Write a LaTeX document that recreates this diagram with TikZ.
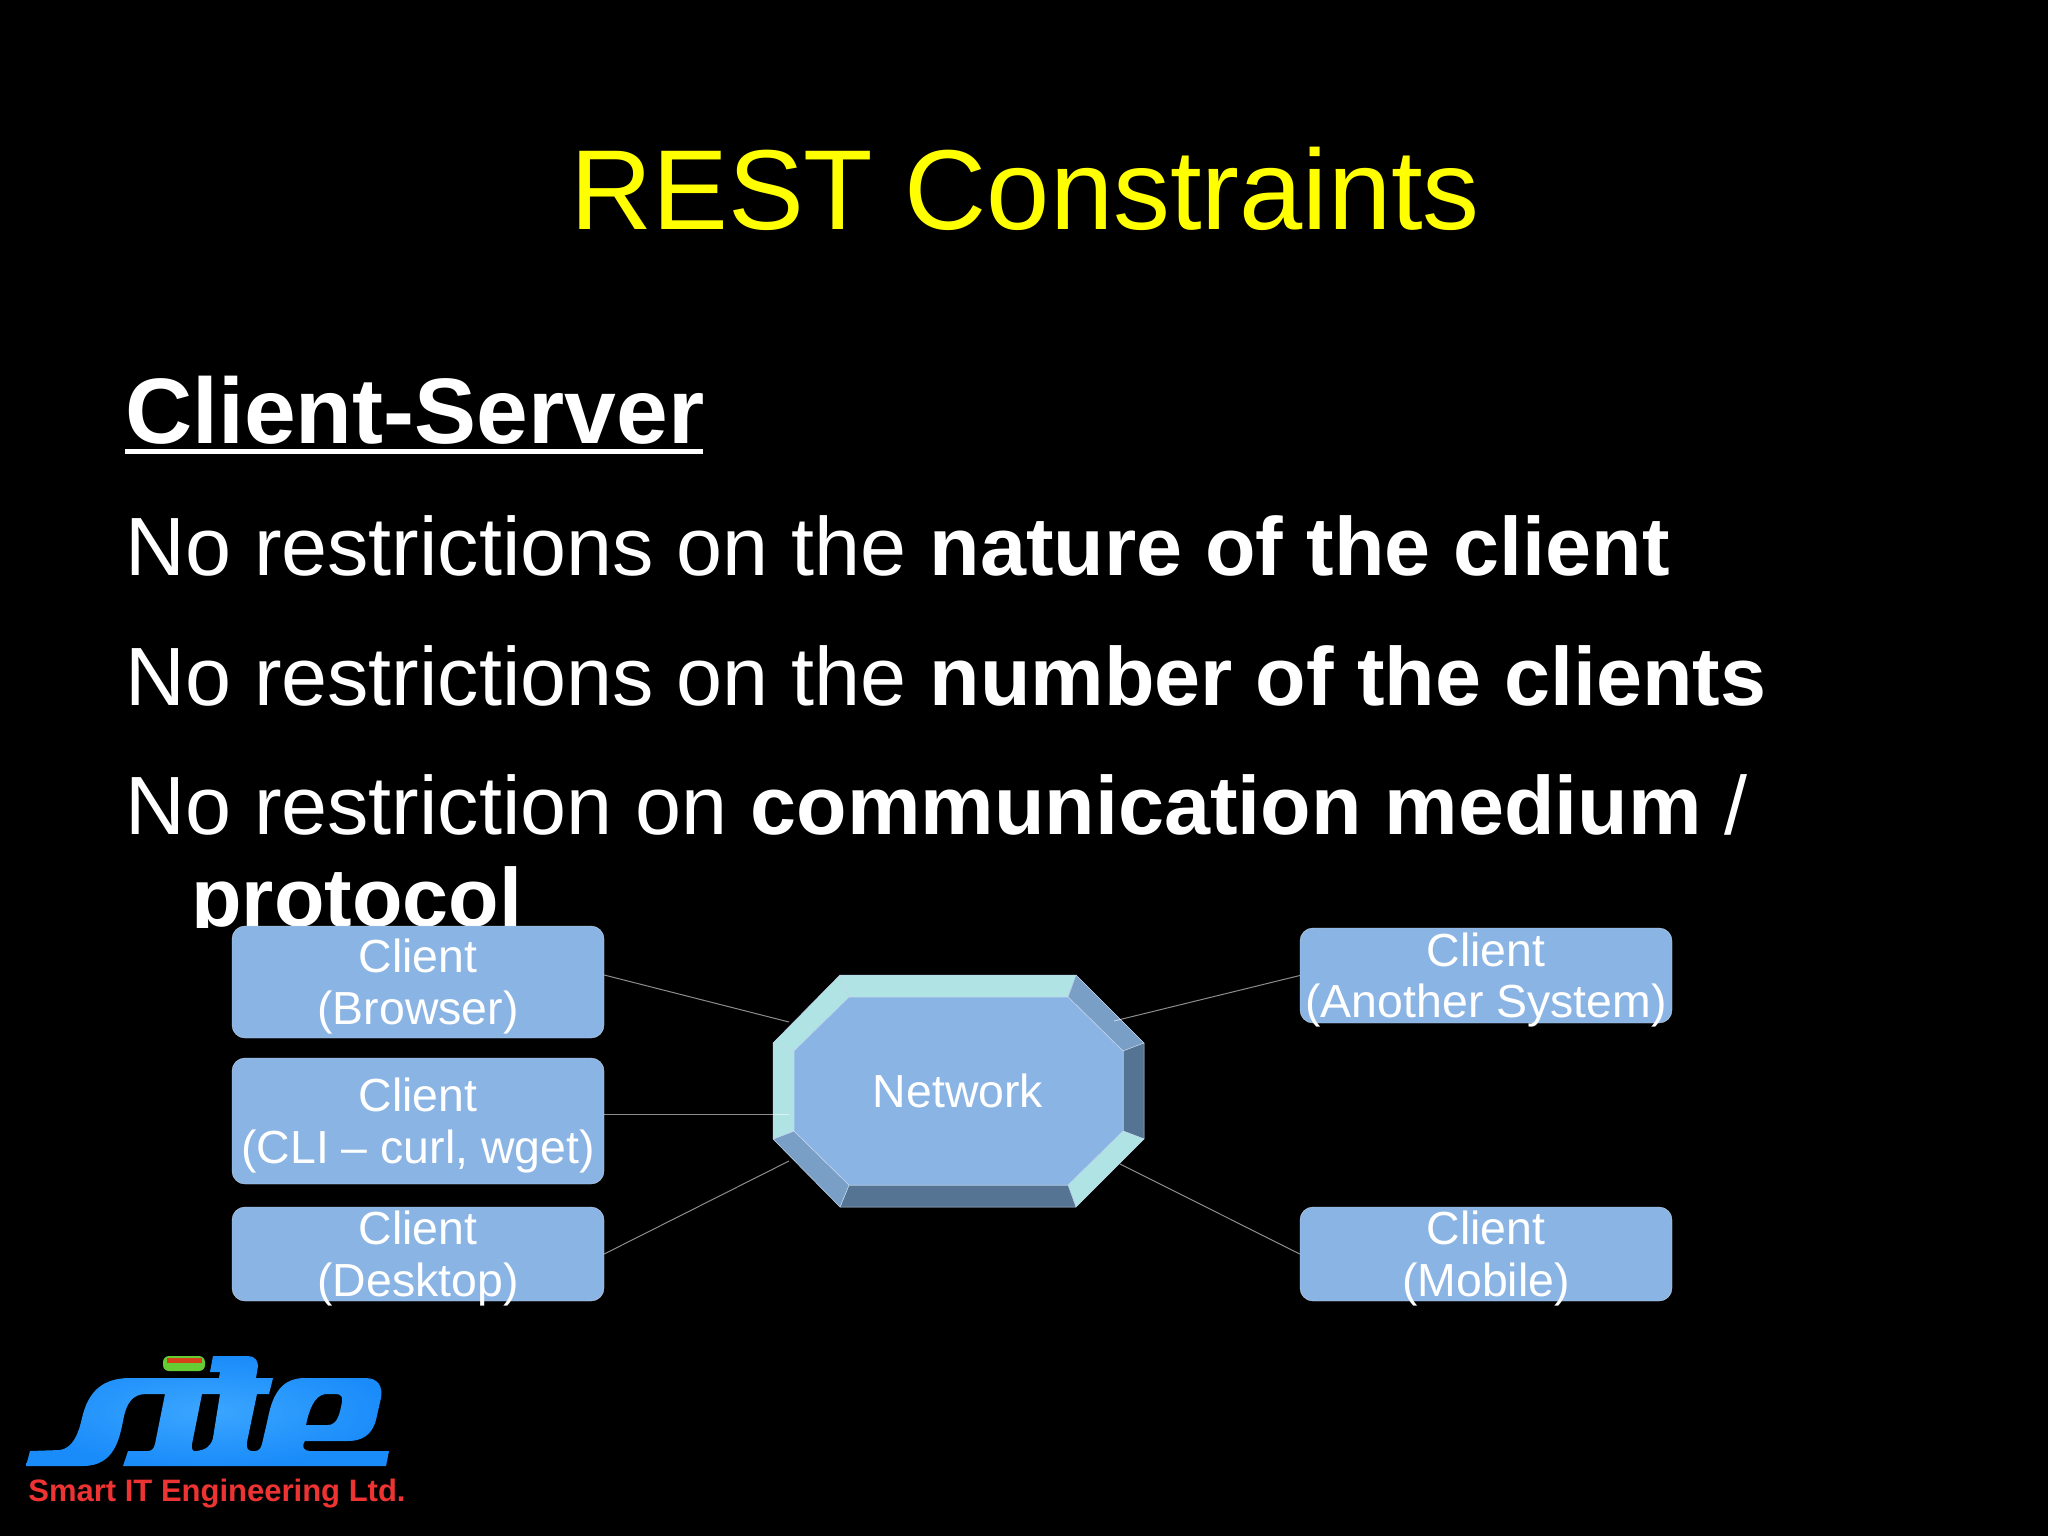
\documentclass[tikz,border=0pt]{standalone}
\usepackage{fontspec}
\setmainfont{Liberation Sans}
\definecolor{face}{HTML}{8AB4E4}
\definecolor{bevlight}{HTML}{B0E4E4}
\definecolor{bevmid}{HTML}{7A9FC7}
\definecolor{bevdark}{HTML}{557393}
\definecolor{edgeline}{HTML}{C4D8EE}
\definecolor{titleyellow}{HTML}{FFFF00}
\definecolor{logolight}{HTML}{3BA6FF}
\definecolor{logodark}{HTML}{1A8CFA}
\definecolor{logored}{HTML}{EE3333}
\definecolor{pillgreen}{HTML}{66CC33}
\definecolor{pillred}{HTML}{D8401A}
\tikzset{
  x=0.5pt,y=-0.5pt,
  titletext/.style={anchor=base,inner sep=0pt,text=titleyellow,font=\fontsize{56.85}{60}\selectfont},
  headtext/.style={anchor=base west,inner sep=0pt,text=white,font=\bfseries\fontsize{46.5}{50}\selectfont},
  bodytext/.style={anchor=base west,inner sep=0pt,text=white,font=\fontsize{41.35}{46}\selectfont},
  clientbox/.style={rectangle,rounded corners=6.5pt,fill=face,draw=edgeline,line width=0.2pt,minimum width=186pt,inner sep=0pt},
  boxtext/.style={anchor=base,inner sep=0pt,text=white,align=center,font=\fontsize{23.2}{26}\selectfont},
  link/.style={draw=white,draw opacity=0.55,line width=0.5pt},
  bevel/.style={draw=edgeline,line width=0.25pt,line join=round},
  footer/.style={anchor=base west,inner sep=0pt,text=logored,font=\bfseries\fontsize{15.5}{18}\selectfont}
}
\begin{document}
\begin{tikzpicture}
\useasboundingbox (0,0) rectangle (2048,1535);
\fill[black] (-6,-6) rectangle (2054,1541);

% Slide text
\node[titletext] (title) at (1025,230) {REST Constraints};
\node[headtext] (head) at (125,443) {Client-Server};
\fill[white] (125,449) rectangle (703,454);
\node[bodytext] (l1) at (125,575) {No restrictions on the \textbf{nature of the client}};
\node[bodytext] (l2) at (125,705) {No restrictions on the \textbf{number of the clients}};
\node[bodytext] (l3) at (125,834) {No restriction on \textbf{communication medium} /};
\begin{scope}
\clip (0,840) rectangle (2048,927);
\node[bodytext] (l4) at (191,926) {\textbf{protocol}};
\end{scope}

% Network octagon
\coordinate (o1) at (840,975);  \coordinate (o2) at (1076,975);
\coordinate (o3) at (1144,1043);\coordinate (o4) at (1144,1139);
\coordinate (o5) at (1076,1207);\coordinate (o6) at (840,1207);
\coordinate (o7) at (773,1139); \coordinate (o8) at (773,1043);
\coordinate (i1) at (849,997);  \coordinate (i2) at (1068,997);
\coordinate (i3) at (1123,1051);\coordinate (i4) at (1123,1131);
\coordinate (i5) at (1068,1185);\coordinate (i6) at (849,1185);
\coordinate (i7) at (794,1131); \coordinate (i8) at (794,1051);
\path[bevel,fill=bevlight] (o1)--(o2)--(i2)--(i1)--cycle;
\path[bevel,fill=bevmid]   (o2)--(o3)--(i3)--(i2)--cycle;
\path[bevel,fill=bevdark]  (o3)--(o4)--(i4)--(i3)--cycle;
\path[bevel,fill=bevlight] (o4)--(o5)--(i5)--(i4)--cycle;
\path[bevel,fill=bevdark]  (o5)--(o6)--(i6)--(i5)--cycle;
\path[bevel,fill=bevmid]   (o6)--(o7)--(i7)--(i6)--cycle;
\path[bevel,fill=bevlight] (o7)--(o8)--(i8)--(i7)--cycle;
\path[bevel,fill=bevlight] (o8)--(o1)--(i1)--(i8)--cycle;
\path[bevel,fill=face] (i1)--(i2)--(i3)--(i4)--(i5)--(i6)--(i7)--(i8)--cycle;
\node[boxtext] (net) at (958,1107) {Network};

% Client boxes
\node[clientbox,minimum height=56pt] (browser) at (418,982) {};
\node[clientbox,minimum height=63pt] (cli) at (418,1121) {};
\node[clientbox,minimum height=47pt] (desktop) at (418,1254) {};
\node[clientbox,minimum height=47.5pt] (another) at (1486,975.5) {};
\node[clientbox,minimum height=47pt] (mobile) at (1486,1254) {};

\node[boxtext] (browsert) at (418,972) {Client};
\node[boxtext] (browsers) at (418,1024) {(Browser)};
\node[boxtext] (clit) at (418,1111) {Client};
\node[boxtext] (clis) at (418,1163) {(CLI – curl, wget)};
\node[boxtext] (desktopt) at (418,1244) {Client};
\node[boxtext] (desktops) at (418,1296) {(Desktop)};
\node[boxtext] (anothert) at (1486,966) {Client};
\node[boxtext] (anothers) at (1486,1017) {(Another System)};
\node[boxtext] (mobilet) at (1486,1244) {Client};
\node[boxtext] (mobiles) at (1486,1296) {(Mobile)};

% Connectors
\coordinate (nb) at (789,1022);
\coordinate (nc) at (789,1114);
\coordinate (nd) at (789,1161);
\coordinate (na) at (1114,1021);
\coordinate (nm) at (1120,1164);
\draw[link] ([yshift=3.5pt]browser.east) -- (nb);
\draw[link] ([yshift=3.5pt]cli.east) -- (nc);
\draw[link] (desktop.east) -- (nd);
\draw[link] (another.west) -- (na);
\draw[link] (mobile.west) -- (nm);

% Logo
\path[even odd rule,inner color=logolight,outer color=logodark]
  (26,1466) -- (30,1451) -- (60,1450)
  .. controls (72,1448) and (78,1436) .. (82,1418)
  .. controls (88,1392) and (102,1378) .. (130,1378)
  -- (219,1378) -- (220,1372) -- (210,1372) -- (213,1356) -- (248,1356)
  .. controls (255,1356) and (258,1361) .. (258,1366)
  -- (256,1378) -- (273,1378) -- (269,1394) -- (257,1394)
  -- (247,1442) .. controls (246,1448) and (248,1451) .. (252,1451)
  -- (255,1451) .. controls (259,1451) and (261,1448) .. (262,1444)
  -- (268,1418) .. controls (273,1392) and (283,1378) .. (305,1378)
  -- (365,1378) .. controls (378,1378) and (383,1386) .. (381,1398)
  -- (376,1420) .. controls (372,1435) and (362,1441) .. (348,1441)
  -- (305,1441) .. controls (301,1447) and (304,1451) .. (310,1451)
  -- (389,1451) -- (386,1466) -- (123,1466) -- (128,1451) -- (148,1451)
  .. controls (152,1451) and (154,1448) .. (155,1444)
  -- (165,1394) -- (146,1394)
  .. controls (132,1394) and (127,1404) .. (124,1416)
  .. controls (120,1436) and (116,1466) .. (83,1466) -- cycle
  (202,1394) -- (192,1444) .. controls (191,1449) and (193,1452) .. (196,1451)
  .. controls (206,1450) and (211,1446) .. (213,1438) -- (220,1394) -- cycle
  (325,1394) .. controls (314,1396) and (309,1410) .. (306,1425)
  -- (328,1425) .. controls (338,1425) and (340,1412) .. (342,1402)
  .. controls (343,1397) and (341,1394) .. (336,1394) -- cycle;
\fill[pillgreen,rounded corners=3pt] (163,1356) rectangle (205,1371);
\fill[pillred] (167,1358) rectangle (202,1362.5);
\node[footer] (brand) at (28,1501) {Smart IT Engineering Ltd.};
\end{tikzpicture}
\end{document}
